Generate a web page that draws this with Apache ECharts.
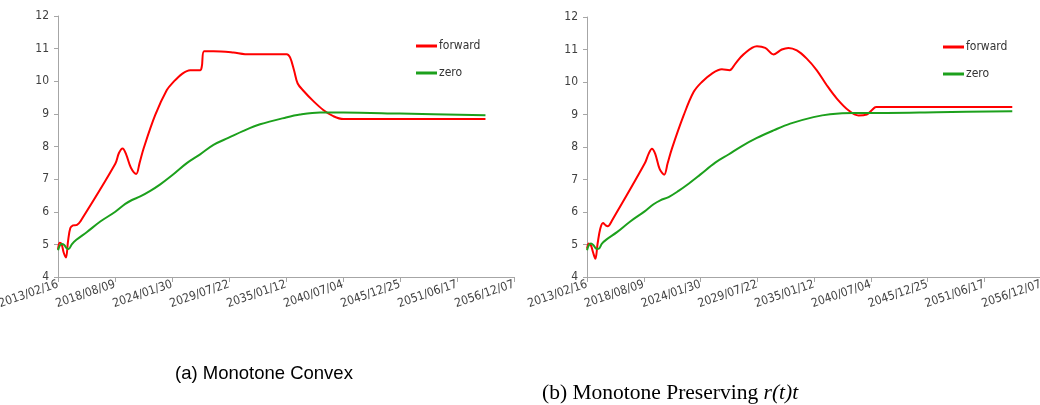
<!DOCTYPE html>
<html>
<head>
<meta charset="utf-8">
<script src="https://cdn.jsdelivr.net/npm/echarts@6/dist/echarts.min.js"></script>
<style>html,body{margin:0;padding:0;background:#fff}#c{width:1040px;height:405px}</style>
</head>
<body>
<div id="c"></div>
<script>
// ---- data (x in decimal years, y in %) ----
const fwdA_x = [2013.13,2013.29,2013.48,2013.67,2013.89,2014.09,2014.31,2014.57,2014.95,2015.27,2018.63,2018.98,2019.33,2019.68,2020.13,2020.64,2020.96,2021.35,2022.46,2023.58,2024.22,2025.02,2025.82,2026.78,2026.94,2027.17,2028.06,2029.98,2031.10,2035.10,2035.42,2035.80,2036.15,2036.70,2037.66,2038.61,2039.57,2040.53,2054.19];
const fwdA_y = [4.85,5.05,5.0,4.75,4.6,5.1,5.5,5.58,5.6,5.7,7.47,7.8,7.94,7.75,7.35,7.16,7.49,7.94,8.96,9.73,9.98,10.22,10.34,10.34,10.45,10.92,10.92,10.88,10.83,10.83,10.73,10.34,9.93,9.71,9.39,9.12,8.93,8.84,8.84];
const zeroA_x = [2013.13,2013.29,2013.48,2013.73,2013.93,2014.15,2014.47,2014.89,2015.91,2017.19,2018.63,2019.59,2020.23,2021.03,2021.99,2022.95,2024.06,2025.50,2026.78,2028.06,2029.53,2030.94,2032.54,2035.03,2036.38,2038.30,2040.53,2045.97,2054.19];
const zeroA_y = [4.82,4.96,5.01,4.98,4.89,4.86,5.01,5.14,5.38,5.70,6.0,6.24,6.36,6.47,6.64,6.84,7.11,7.49,7.76,8.05,8.27,8.48,8.68,8.89,8.98,9.04,9.04,9.01,8.96];
const fwdB_x = [2013.13,2013.29,2013.51,2013.70,2013.93,2014.15,2014.41,2014.67,2014.93,2015.12,2015.54,2018.69,2019.07,2019.39,2019.71,2020.13,2020.58,2020.90,2021.32,2022.45,2023.41,2024.21,2025.18,2026.14,2026.88,2027.43,2028.23,2029.52,2030.32,2031.12,2031.92,2032.57,2033.37,2034.33,2035.30,2036.26,2037.23,2038.35,2039.32,2040.12,2040.60,2041.02,2054.16];
const fwdB_y = [4.87,5.03,4.97,4.77,4.56,5.03,5.49,5.66,5.59,5.56,5.74,7.49,7.79,7.95,7.79,7.33,7.15,7.49,7.95,8.97,9.69,10.0,10.26,10.39,10.36,10.56,10.85,11.10,11.05,10.85,11.0,11.05,10.97,10.72,10.36,9.90,9.49,9.13,8.97,9.0,9.13,9.23,9.23];
const zeroB_x = [2013.13,2013.29,2013.51,2013.77,2014.03,2014.25,2014.57,2014.99,2016.02,2017.30,2018.69,2019.55,2020.20,2021.00,2021.96,2022.93,2024.05,2025.50,2026.78,2028.07,2029.52,2031.12,2032.73,2034.98,2036.58,2038.83,2042.05,2046.87,2054.16];
const zeroB_y = [4.82,4.97,5.03,4.97,4.87,4.87,5.03,5.15,5.38,5.71,6.02,6.24,6.36,6.46,6.65,6.87,7.15,7.52,7.77,8.03,8.28,8.51,8.72,8.92,9.01,9.05,9.05,9.07,9.10];
const seriesNames = ['forward', 'zero'];
const titles = ['(a) Monotone Convex', '(b) Monotone Preserving '];
const titleItalic = 'r(t)t';
const axisStartDate = [2013, 1, 16]; // 2013/02/16
const tickStepDays = 2000;
const tickCount = 8;
const yMin = 4, yMax = 12, yStep = 1;

// ---- helpers ----
const startYear = 2013 + (31 + 15) / 365.25;
const startMs = Date.UTC(axisStartDate[0], axisStartDate[1], axisStartDate[2]);
function toDays(y) { return (y - startYear) * 365.25; }
function pairs(xs, ys) { return xs.map((x, i) => [toDays(x), ys[i]]); }
function pad(n) { return (n < 10 ? '0' : '') + n; }
function fmtDate(v) {
  const d = new Date(startMs + Math.round(v) * 86400000);
  return d.getUTCFullYear() + '/' + pad(d.getUTCMonth() + 1) + '/' + pad(d.getUTCDate());
}

const narrow = "'Liberation Sans Narrow', 'DejaVu Sans Condensed', sans-serif";
const axisGray = '#a6a6a6';
const RED = '#ff0000', GREEN = '#1ca01c';

function xAxis(gi) {
  return {
    type: 'value', gridIndex: gi, min: 0, max: tickStepDays * tickCount, interval: tickStepDays,
    splitLine: { show: false },
    axisLine: { lineStyle: { color: axisGray, width: 1 } },
    axisTick: { length: 5, lineStyle: { color: axisGray } },
    axisLabel: { formatter: fmtDate, rotate: 19, margin: 7, fontFamily: narrow, fontSize: 12, color: '#404040',
      showMinLabel: true, showMaxLabel: true, hideOverlap: false }
  };
}
function yAxis(gi) {
  return {
    type: 'value', gridIndex: gi, min: yMin, max: yMax, interval: yStep,
    splitLine: { show: false },
    axisLine: { show: true, lineStyle: { color: axisGray, width: 1 } },
    axisTick: { show: true, length: 4, lineStyle: { color: axisGray } },
    axisLabel: { margin: 9, fontFamily: narrow, fontSize: 12, color: '#404040' }
  };
}
function line(name, data, color, gi) {
  return {
    name, type: 'line', xAxisIndex: gi, yAxisIndex: gi, data,
    smooth: 0.35, symbol: 'none', lineStyle: { color, width: 2 }, itemStyle: { color },
    animation: false
  };
}
function legend(left, top) {
  return {
    left, top, orient: 'vertical', itemGap: 15, itemWidth: 21, itemHeight: 3, icon: 'rect', padding: 0,
    data: seriesNames, selectedMode: false,
    textStyle: { fontFamily: narrow, fontSize: 12, color: '#333', padding: [0, 0, 0, -3] }
  };
}

const chart = echarts.init(document.getElementById('c'), null, { renderer: 'canvas' });
chart.setOption({
  animation: false,
  backgroundColor: '#fff',
  title: [
    { text: titles[0], left: 175, top: 364, padding: 0,
      textStyle: { fontFamily: "'Liberation Sans', Arial, sans-serif", fontSize: 18.5, fontWeight: 'normal', color: '#000' } },
    { text: titles[1] + '{i|' + titleItalic + '}', left: 542, top: 382, padding: 0,
      textStyle: { fontFamily: "'Liberation Serif', 'Times New Roman', serif", fontSize: 21.5, fontWeight: 'normal', color: '#000',
        rich: { i: { fontFamily: "'Liberation Serif', 'Times New Roman', serif", fontSize: 21.5, fontStyle: 'italic', color: '#000' } } } }
  ],
  legend: [legend(416, 40), legend(943, 41)],
  grid: [
    { left: 58, top: 16, width: 456, height: 261, outerBoundsMode: 'none', containLabel: false },
    { left: 587, top: 17, width: 454, height: 260, outerBoundsMode: 'none', containLabel: false }
  ],
  xAxis: [xAxis(0), xAxis(1)],
  yAxis: [yAxis(0), yAxis(1)],
  series: [
    line(seriesNames[0], pairs(fwdA_x, fwdA_y), RED, 0),
    line(seriesNames[1], pairs(zeroA_x, zeroA_y), GREEN, 0),
    line(seriesNames[0], pairs(fwdB_x, fwdB_y), RED, 1),
    line(seriesNames[1], pairs(zeroB_x, zeroB_y), GREEN, 1)
  ]
});
</script>
</body>
</html>
